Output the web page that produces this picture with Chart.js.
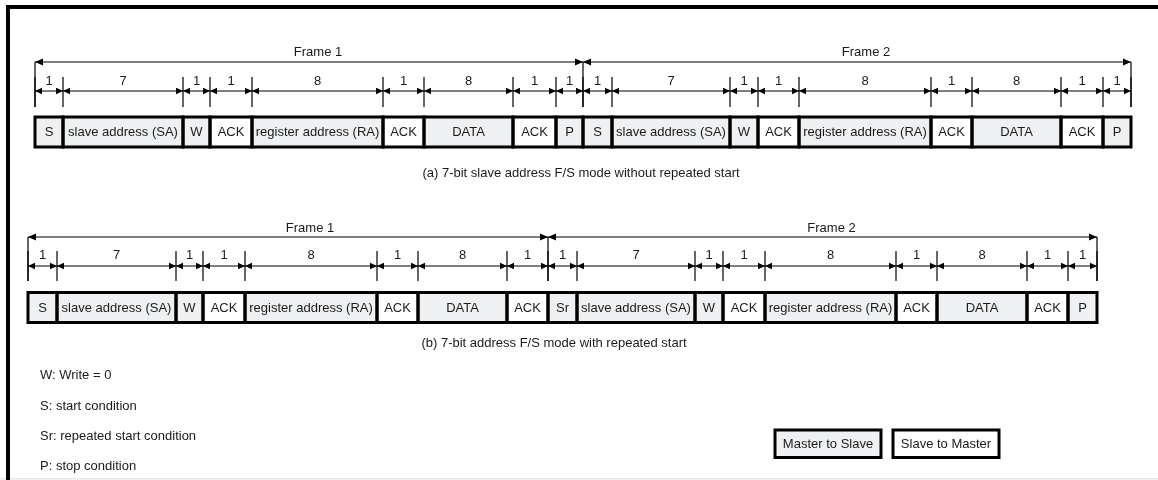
<!DOCTYPE html>
<html><head><meta charset="utf-8">
<script src="https://cdn.jsdelivr.net/npm/chart.js@4.4.1/dist/chart.umd.min.js"></script>
<style>html,body{margin:0;padding:0;background:#fff;overflow:hidden;} canvas{display:block;}</style>
</head><body>
<canvas id="c" width="1158" height="480"></canvas>
<script>
// ---- data (field names, bit counts, field widths in diagram units, direction) ----
const fieldsA = ['S','slave address (SA)','W','ACK','register address (RA)','ACK','DATA','ACK','P',
                 'S','slave address (SA)','W','ACK','register address (RA)','ACK','DATA','ACK','P'];
const bitsA   = [1,7,1,1,8,1,8,1,1, 1,7,1,1,8,1,8,1,1];
const widthsA = [28,120,27,42,131,41,89,43,27, 29,118,28,41,132,41,89,42,28];
const dirA    = ['M','M','M','S','M','S','M','S','M', 'M','M','M','S','M','S','M','S','M'];
const frameNamesA = ['Frame 1','Frame 2'];
const frameCountA = [9, 9];
const captionA = '(a) 7-bit slave address F/S mode without repeated start';

const fieldsB = ['S','slave address (SA)','W','ACK','register address (RA)','ACK','DATA','ACK',
                 'Sr','slave address (SA)','W','ACK','register address (RA)','ACK','DATA','ACK','P'];
const bitsB   = [1,7,1,1,8,1,8,1, 1,7,1,1,8,1,8,1,1];
const widthsB = [29,119,27,42,132,41,89,41, 29,118,28,42,131,41,90,41,29];
const dirB    = ['M','M','M','S','M','S','M','S', 'M','M','M','S','M','S','M','S','M'];
const frameNamesB = ['Frame 1','Frame 2'];
const frameCountB = [8, 9];
const captionB = '(b) 7-bit address F/S mode with repeated start';

const notes = ['W: Write = 0','S: start condition','Sr: repeated start condition','P: stop condition'];
const dirNames = ['Master to Slave','Slave to Master'];

// ---- styles / layout ----
const FONT = '13px "Liberation Sans", Arial, Helvetica, sans-serif';
const GRAY = '#eef0f2';
const INK = '#1a1a1a';
const rows = [
  {x0:35, boxY:132, dimY:91, tickTop:77, tickBot:107, bitsY:81.5, frameY:62, frameLabelY:52.5, frameDx:[9,9], capX:581, capY:173.5},
  {x0:28, boxY:307.5, dimY:266, tickTop:251, tickBot:281, bitsY:255.5, frameY:237, frameLabelY:228, frameDx:[22,9], capX:554, capY:343.5}
];
const diagrams = [
  {fields:fieldsA, bits:bitsA, widths:widthsA, dir:dirA, frames:frameNamesA, counts:frameCountA, caption:captionA},
  {fields:fieldsB, bits:bitsB, widths:widthsB, dir:dirB, frames:frameNamesB, counts:frameCountB, caption:captionB}
];

function spans(x0, widths){ const s=[]; let x=x0; for(const w of widths){ s.push([x,x+w]); x+=w; } return s; }

const datasets = diagrams.map((d,i)=>{
  const sp = spans(rows[i].x0, d.widths);
  return {
    label: d.caption,
    data: sp.map(s=>({x:[s[0],s[1]], y:rows[i].boxY})),
    backgroundColor: d.dir.map(v=> v==='M'?GRAY:'#ffffff'),
    borderWidth: 0,
    barThickness: 30,
    grouped: false
  };
});

function arrow(ctx, tipX, y, dirSign, len, half){
  ctx.beginPath();
  ctx.moveTo(tipX, y);
  ctx.lineTo(tipX - dirSign*len, y - half);
  ctx.lineTo(tipX - dirSign*len, y + half);
  ctx.closePath();
  ctx.fill();
}

const diagramPlugin = {
  id: 'diagram',
  beforeDraw(chart){
    const c = chart.ctx;
    c.save();
    c.fillStyle = '#ffffff';
    c.fillRect(0,0,chart.width,chart.height);
    c.fillStyle = '#e6e6e6';
    c.fillRect(0,478,chart.width,1.5);
    c.fillStyle = '#000';
    c.fillRect(6,5,chart.width-6,4);
    c.fillRect(6,5,4,chart.height-5);
    c.restore();
  },
  afterDatasetsDraw(chart){
    const c = chart.ctx;
    const xs = chart.scales.x, ys = chart.scales.y;
    c.save();
    c.font = FONT;
    c.textBaseline = 'middle';
    c.textAlign = 'center';
    diagrams.forEach((d,i)=>{
      const r = rows[i];
      const meta = chart.getDatasetMeta(i);
      // box outlines & labels
      c.strokeStyle = '#000';
      c.lineWidth = 3;
      meta.data.forEach((el,j)=>{
        const p = el.getProps(['x','y','base','height'], true);
        const l = Math.min(p.x,p.base), w = Math.abs(p.x-p.base);
        c.strokeRect(l, p.y - p.height/2, w, p.height);
      });
      c.fillStyle = INK;
      meta.data.forEach((el,j)=>{
        const p = el.getProps(['x','y','base'], true);
        c.fillText(d.fields[j], (p.x+p.base)/2, p.y+0.5);
      });
      // dimension lines
      const sp = spans(r.x0, d.widths).map(s=>[xs.getPixelForValue(s[0]), xs.getPixelForValue(s[1])]);
      const dimY = ys.getPixelForValue(r.dimY);
      c.lineWidth = 1.2;
      c.strokeStyle = '#000';
      c.fillStyle = '#000';
      c.beginPath();
      c.moveTo(sp[0][0], dimY); c.lineTo(sp[sp.length-1][1], dimY);
      const ticks = [sp[0][0]].concat(sp.map(s=>s[1]));
      ticks.forEach(t=>{ c.moveTo(t, ys.getPixelForValue(r.tickTop)); c.lineTo(t, ys.getPixelForValue(r.tickBot)); });
      c.stroke();
      sp.forEach(s=>{ arrow(c, s[0], dimY, -1, 7, 3.2); arrow(c, s[1], dimY, 1, 7, 3.2); });
      c.fillStyle = INK;
      sp.forEach((s,j)=>{ c.fillText(String(d.bits[j]), (s[0]+s[1])/2, ys.getPixelForValue(r.bitsY)); });
      // frames
      const frameY = ys.getPixelForValue(r.frameY);
      let k = 0;
      c.fillStyle = '#000';
      c.beginPath();
      d.counts.forEach((n,f)=>{
        const a = sp[k][0], b = sp[k+n-1][1];
        c.moveTo(a, frameY); c.lineTo(b, frameY);
        c.moveTo(a, frameY); c.lineTo(a, ys.getPixelForValue(r.tickBot));
        c.moveTo(b, frameY); c.lineTo(b, ys.getPixelForValue(r.tickBot));
        k += n;
      });
      c.stroke();
      k = 0;
      d.counts.forEach((n,f)=>{
        const a = sp[k][0], b = sp[k+n-1][1];
        c.fillStyle = '#000';
        arrow(c, a, frameY, -1, 8, 3.6);
        arrow(c, b, frameY, 1, 8, 3.6);
        c.fillStyle = INK;
        c.fillText(d.frames[f], (a+b)/2 + r.frameDx[f], ys.getPixelForValue(r.frameLabelY));
        k += n;
      });
      // caption
      c.fillText(d.caption, xs.getPixelForValue(r.capX), ys.getPixelForValue(r.capY));
    });
    // notes
    c.textAlign = 'left';
    const noteY = [375, 406.5, 436.5, 466.5];
    notes.forEach((t,i)=> c.fillText(t, xs.getPixelForValue(40), ys.getPixelForValue(noteY[i])));
    // direction legend boxes
    const boxes = [[775,881],[893,999]];
    dirNames.forEach((t,i)=>{
      const l = xs.getPixelForValue(boxes[i][0]), rr = xs.getPixelForValue(boxes[i][1]);
      const top = ys.getPixelForValue(430), bot = ys.getPixelForValue(457.5);
      c.fillStyle = i===0 ? GRAY : '#ffffff';
      c.fillRect(l, top, rr-l, bot-top);
      c.strokeStyle = '#000'; c.lineWidth = 3;
      c.strokeRect(l, top, rr-l, bot-top);
      c.fillStyle = INK; c.textAlign = 'center';
      c.fillText(t, (l+rr)/2, (top+bot)/2 + 0.5);
    });
    c.restore();
  }
};

new Chart(document.getElementById('c').getContext('2d'), {
  type: 'bar',
  data: { datasets },
  options: {
    indexAxis: 'y',
    responsive: false,
    animation: false,
    layout: { padding: 0 },
    scales: {
      x: { type:'linear', min:0, max:1158, offset:false, display:false },
      y: { type:'linear', min:0, max:480, reverse:true, offset:false, display:false }
    },
    plugins: { legend:{display:false}, tooltip:{enabled:false}, title:{display:false} }
  },
  plugins: [diagramPlugin]
});
</script>
</body></html>
